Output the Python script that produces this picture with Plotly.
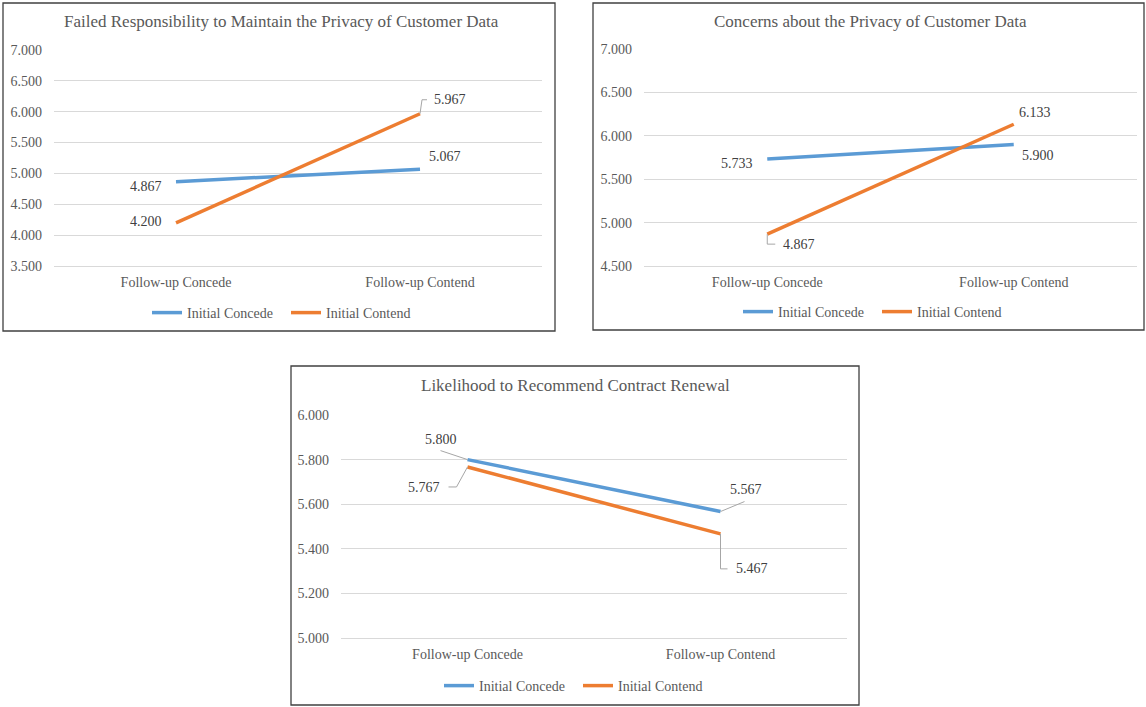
import plotly.graph_objects as go

# ---- data -------------------------------------------------------------
categories = ["Follow-up Concede", "Follow-up Contend"]
series_names = ["Initial Concede", "Initial Contend"]

titles = [
    "Failed Responsibility to Maintain the Privacy of Customer Data",
    "Concerns about the Privacy of Customer Data",
    "Likelihood to Recommend Contract Renewal",
]

privacy_failure_concede = [4.867, 5.067]
privacy_failure_contend = [4.200, 5.967]

privacy_concern_concede = [5.733, 5.900]
privacy_concern_contend = [4.867, 6.133]

renewal_concede = [5.800, 5.567]
renewal_contend = [5.767, 5.467]

y_ticks_1 = [3.5, 4.0, 4.5, 5.0, 5.5, 6.0, 6.5, 7.0]
y_ticks_2 = [4.5, 5.0, 5.5, 6.0, 6.5, 7.0]
y_ticks_3 = [5.0, 5.2, 5.4, 5.6, 5.8, 6.0]

# ---- styling ------------------------------------------------------------
W, H = 1146, 707
BLUE = "#5B9BD5"
ORANGE = "#ED7D31"
GRID = "#D9D9D9"
AXIS_TEXT = "#595959"
LABEL_TEXT = "#404040"
FRAME = "#404040"
SERIF = "Liberation Serif, Times New Roman, serif"
SMALL = 14
TITLE_SIZE = 17


def fx(px):
    return px / W


def fy(py):
    return 1 - py / H


# panel layout in pixels: frame box, plot area, title centre, legend left / middle
panels = [
    dict(box=(3, 3, 555, 331), plot=(54, 50, 542, 266), title=(281, 22), legend=(153, 313),
         ticks=y_ticks_1, data=(privacy_failure_concede, privacy_failure_contend)),
    dict(box=(593, 3, 1144, 330), plot=(644, 49, 1137, 266), title=(870, 21), legend=(744, 312),
         ticks=y_ticks_2, data=(privacy_concern_concede, privacy_concern_contend)),
    dict(box=(291, 366, 859, 705), plot=(341, 415, 847, 638), title=(575, 385), legend=(445, 686),
         ticks=y_ticks_3, data=(renewal_concede, renewal_contend)),
]

# value-label placement per panel: (series, category index) ->
# (xanchor, xshift, yshift, leader path relative to the point, y up)
label_specs = [
    {
        (0, 0): ("right", -12, -5, None),
        (1, 0): ("right", -12, 1, None),
        (0, 1): ("left", 7, 13, None),
        (1, 1): ("left", 12, 14, "M 0 0 L 2 14 L 7 14"),
    },
    {
        (0, 0): ("right", -12, -5, None),
        (1, 0): ("left", 14, -10, "M 0 0 L 0 -10 L 8 -10"),
        (1, 1): ("left", 3, 12, None),
        (0, 1): ("left", 6, -11, None),
    },
    {
        (0, 0): ("right", -9, 20, "M 0 0 L -27 9"),
        (1, 0): ("right", -26, -21, "M 0 0 L -11 -20 L -19 -20"),
        (0, 1): ("left", 7, 22, "M 0 0 L 24 10"),
        (1, 1): ("left", 13, -35, "M 0 0 L 0 -35 L 7 -35"),
    },
]

colors = [BLUE, ORANGE]

fig = go.Figure()
annotations = []
shapes = []

for i, p in enumerate(panels):
    suffix = "" if i == 0 else str(i + 1)
    xa, ya = "x" + suffix, "y" + suffix
    legend_id = "legend" + suffix
    x0, y0, x1, y1 = p["plot"]

    for s, values in enumerate(p["data"]):
        fig.add_trace(go.Scatter(
            x=categories, y=values, name=series_names[s], mode="lines",
            line=dict(color=colors[s], width=3.5),
            xaxis=xa, yaxis=ya, legend=legend_id, hoverinfo="skip",
        ))
        for c, v in enumerate(values):
            anchor, xs, ys, leader = label_specs[i][(s, c)]
            annotations.append(dict(
                x=categories[c], y=v, xref=xa, yref=ya, text=f"{v:.3f}",
                showarrow=False, xanchor=anchor, yanchor="middle",
                xshift=xs, yshift=ys,
                font=dict(family=SERIF, size=SMALL, color=LABEL_TEXT),
            ))
            if leader:
                shapes.append(dict(
                    type="path", xref=xa, yref=ya,
                    xsizemode="pixel", ysizemode="pixel",
                    xanchor=categories[c], yanchor=v, path=leader,
                    line=dict(color="#A6A6A6", width=1),
                ))

    fig.update_layout({
        "xaxis" + suffix: dict(
            domain=[fx(x0), fx(x1)], anchor=ya, type="category",
            range=[-0.5, 1.5], showgrid=False, zeroline=False,
            showline=True, linecolor=GRID, linewidth=1, ticks="",
            ticklabelstandoff=3,
            tickfont=dict(family=SERIF, size=SMALL, color=AXIS_TEXT),
        ),
        "yaxis" + suffix: dict(
            domain=[fy(y1), fy(y0)], anchor=xa,
            range=[min(p["ticks"]), max(p["ticks"])],
            tickvals=p["ticks"], tickformat=".3f",
            showgrid=True, gridcolor=GRID, gridwidth=1, zeroline=False,
            showline=False, ticks="", ticklabelstandoff=11,
            tickfont=dict(family=SERIF, size=SMALL, color=AXIS_TEXT),
        ),
        legend_id: dict(
            orientation="h", x=fx(p["legend"][0] - 6), y=fy(p["legend"][1]),
            xanchor="left", yanchor="middle", bgcolor="rgba(0,0,0,0)",
            font=dict(family=SERIF, size=SMALL, color=AXIS_TEXT),
            itemwidth=30, tracegroupgap=0,
            entrywidth=94, entrywidthmode="pixels",
        ),
    })

    annotations.append(dict(
        x=fx(p["title"][0]), y=fy(p["title"][1]), xref="paper", yref="paper",
        text=titles[i], showarrow=False, xanchor="center", yanchor="middle",
        font=dict(family=SERIF, size=TITLE_SIZE, color=AXIS_TEXT),
    ))

    bx0, by0, bx1, by1 = p["box"]
    shapes.append(dict(
        type="rect", xref="paper", yref="paper",
        x0=fx(bx0), x1=fx(bx1), y0=fy(by1), y1=fy(by0),
        line=dict(color=FRAME, width=1.3), fillcolor="rgba(0,0,0,0)", layer="below",
    ))

fig.update_layout(
    width=W, height=H, margin=dict(l=0, r=0, t=0, b=0, autoexpand=False),
    paper_bgcolor="white", plot_bgcolor="white",
    showlegend=True, annotations=annotations, shapes=shapes,
)

fig.write_html("out.html", config={"displayModeBar": False})
